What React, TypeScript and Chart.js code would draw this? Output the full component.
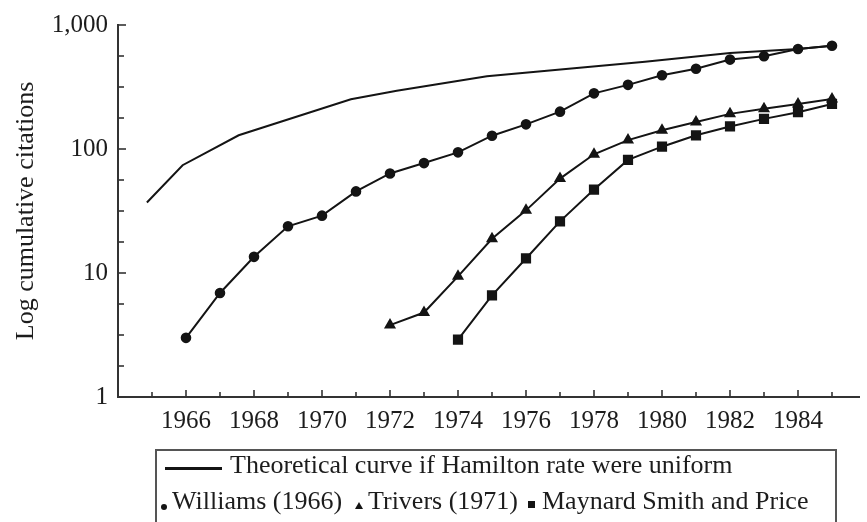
import React, { useEffect, useRef } from 'react';
import { Chart, registerables } from 'chart.js';

Chart.register(...registerables);

// ---- data ----
const WILLIAMS_YEARS = [1966, 1967, 1968, 1969, 1970, 1971, 1972, 1973, 1974, 1975, 1976, 1977, 1978, 1979, 1980, 1981, 1982, 1983, 1984, 1985];
const WILLIAMS = [3, 6.9, 13.5, 23.8, 29, 45.5, 63.5, 77, 94, 128, 158, 200, 281, 329, 393, 444, 526, 559, 641, 680];

const TRIVERS_YEARS = [1972, 1973, 1974, 1975, 1976, 1977, 1978, 1979, 1980, 1981, 1982, 1983, 1984, 1985];
const TRIVERS = [3.8, 4.8, 9.4, 18.9, 32, 57.7, 90.7, 118, 141.5, 165, 192, 211, 231, 253];

const MAYNARD_YEARS = [1974, 1975, 1976, 1977, 1978, 1979, 1980, 1981, 1982, 1983, 1984, 1985];
const MAYNARD_SMITH = [2.9, 6.6, 13.1, 26.1, 47.1, 81.7, 104.4, 129, 152, 175, 198, 231];

const THEORY_YEARS = [1964.85, 1965.9, 1967.55, 1970.85, 1972.2, 1974.85, 1979.5, 1982, 1984, 1985];
const THEORY = [37, 74, 129, 252, 295, 386, 505, 595, 641, 680];

const X_TICK_YEARS = [1964, 1965, 1966, 1967, 1968, 1969, 1970, 1971, 1972, 1973, 1974, 1975, 1976, 1977, 1978, 1979, 1980, 1981, 1982, 1983, 1984, 1985];
const X_LABELED_YEARS = [1966, 1968, 1970, 1972, 1974, 1976, 1978, 1980, 1982, 1984];

const Y_TICK_EXPONENTS = [0, 0.25, 0.5, 0.75, 1, 1.25, 1.5, 1.75, 2, 2.25, 2.5, 2.75, 3];
const Y_TICK_LABELS = ['1', '10', '100', '1,000'];

const LEGEND_THEORY = 'Theoretical curve if Hamilton rate were uniform';
const LEGEND_WILLIAMS = 'Williams (1966)';
const LEGEND_TRIVERS = 'Trivers (1971)';
const LEGEND_MAYNARD = 'Maynard Smith and Price';
const Y_TITLE = 'Log cumulative citations';

const FONT = '"Liberation Serif", "DejaVu Serif", serif';
const INK = '#141414';
const TEXT = '#1c1c1c';
const AXIS = '#333333';

const pairs = (xs: number[], ys: number[]) => xs.map((x, i) => ({ x, y: ys[i] }));

const innerTicks = {
  id: 'innerTicks',
  afterDraw(chart: any) {
    const { ctx, chartArea, scales } = chart;
    ctx.save();
    ctx.strokeStyle = AXIS;
    ctx.lineWidth = 1.6;
    scales.x.ticks.forEach((t: any) => {
      const px = scales.x.getPixelForValue(t.value);
      const len = t.value % 2 === 0 ? 7 : 5;
      ctx.beginPath();
      ctx.moveTo(px, chartArea.bottom);
      ctx.lineTo(px, chartArea.bottom - len);
      ctx.stroke();
    });
    scales.y.ticks.forEach((t: any, i: number) => {
      const py = scales.y.getPixelForValue(t.value);
      const len = i % 4 === 0 ? 8 : 6;
      ctx.beginPath();
      ctx.moveTo(chartArea.left, py);
      ctx.lineTo(chartArea.left + len, py);
      ctx.stroke();
    });
    ctx.restore();
  },
};

export default function App() {
  const ref = useRef<HTMLCanvasElement | null>(null);

  useEffect(() => {
    if (!ref.current) return;
    const line = { borderColor: INK, backgroundColor: INK, borderWidth: 2, tension: 0 };
    const chart = new Chart(ref.current, {
      type: 'line',
      data: {
        datasets: [
          { ...line, label: LEGEND_THEORY, data: pairs(THEORY_YEARS, THEORY), pointRadius: 0 },
          { ...line, label: LEGEND_WILLIAMS, data: pairs(WILLIAMS_YEARS, WILLIAMS), pointStyle: 'circle', pointRadius: 4.3 },
          { ...line, label: LEGEND_TRIVERS, data: pairs(TRIVERS_YEARS, TRIVERS), pointStyle: 'triangle', pointRadius: 5 },
          { ...line, label: LEGEND_MAYNARD, data: pairs(MAYNARD_YEARS, MAYNARD_SMITH), pointStyle: 'rect', pointRadius: 5.8 },
        ],
      },
      options: {
        animation: false,
        responsive: false,
        devicePixelRatio: 1,
        layout: { padding: { top: 20, left: 0, right: 1, bottom: 0 } },
        plugins: { legend: { display: false }, tooltip: { enabled: false }, title: { display: false } },
        scales: {
          x: {
            type: 'linear',
            min: 1964,
            max: 1985.8,
            grid: { display: false, drawTicks: false },
            border: { display: true, color: AXIS, width: 2 },
            afterBuildTicks: (scale: any) => {
              scale.ticks = X_TICK_YEARS.map((v) => ({ value: v }));
            },
            afterFit: (scale: any) => {
              scale.height = 125;
            },
            ticks: {
              autoSkip: false,
              maxRotation: 0,
              padding: 9,
              color: TEXT,
              font: { family: FONT, size: 25 },
              callback: (v: any) => (X_LABELED_YEARS.includes(Number(v)) ? String(v) : ''),
            },
          },
          y: {
            type: 'logarithmic',
            min: 1,
            max: 1000,
            grid: { display: false, drawTicks: false },
            border: { display: true, color: AXIS, width: 2 },
            afterBuildTicks: (scale: any) => {
              scale.ticks = Y_TICK_EXPONENTS.map((e) => ({ value: Math.pow(10, e) }));
            },
            afterFit: (scale: any) => {
              scale.width = 118;
            },
            title: {
              display: true,
              text: Y_TITLE,
              color: TEXT,
              font: { family: FONT, size: 26 },
              padding: { top: 11, bottom: 0 },
            },
            ticks: {
              autoSkip: false,
              padding: 10,
              color: TEXT,
              font: { family: FONT, size: 25 },
              callback: (_v: any, i: number) => (i % 4 === 0 ? Y_TICK_LABELS[i / 4] : ''),
            },
          },
        },
      },
      plugins: [innerTicks],
    });
    return () => chart.destroy();
  }, []);

  const text: React.CSSProperties = {
    position: 'absolute',
    fontFamily: FONT,
    fontSize: 26,
    lineHeight: '26px',
    color: TEXT,
    whiteSpace: 'nowrap',
  };

  return (
    <div style={{ position: 'fixed', left: 0, top: 0, width: 867, height: 522, overflow: 'hidden', background: '#fff' }}>
      <canvas ref={ref} width={867} height={522} style={{ position: 'absolute', left: 0, top: 0, width: 867, height: 522 }} />
      <div style={{ position: 'absolute', left: 155, top: 449, width: 682, height: 120, border: '2px solid #555', boxSizing: 'border-box' }} />
      <div style={{ position: 'absolute', left: 165, top: 467, width: 57, height: 2.5, background: INK }} />
      <span style={{ ...text, left: 230, top: 452 }}>{LEGEND_THEORY}</span>
      <div style={{ position: 'absolute', left: 160.5, top: 503.5, width: 6, height: 6, borderRadius: '50%', background: INK }} />
      <span style={{ ...text, left: 172, top: 488 }}>{LEGEND_WILLIAMS}</span>
      <div style={{ position: 'absolute', left: 355, top: 502, width: 0, height: 0, borderLeft: '4px solid transparent', borderRight: '4px solid transparent', borderBottom: '7px solid ' + INK }} />
      <span style={{ ...text, left: 368, top: 488 }}>{LEGEND_TRIVERS}</span>
      <div style={{ position: 'absolute', left: 528, top: 501, width: 7, height: 7, background: INK }} />
      <span style={{ ...text, left: 542, top: 488 }}>{LEGEND_MAYNARD}</span>
    </div>
  );
}
